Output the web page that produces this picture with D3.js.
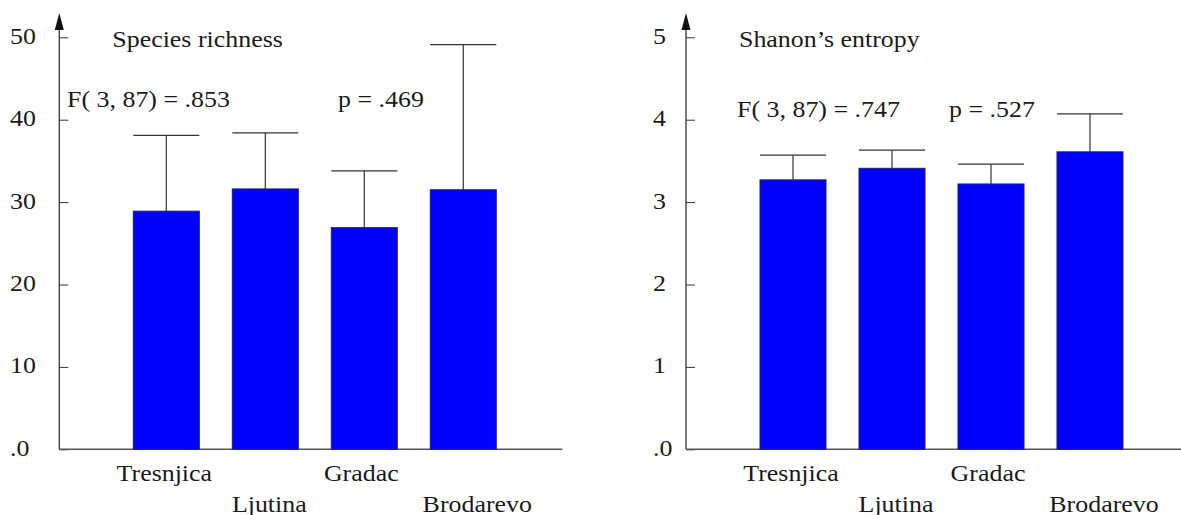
<!DOCTYPE html>
<meta charset="utf-8">
<style>
  body { margin: 0; background: #fff; }
  svg text { font-family: "Liberation Serif", "Times New Roman", Times, "DejaVu Serif", serif; fill: #1a1a1a; }
</style>
<script src="https://d3js.org/d3.v7.min.js"></script>
<div id="chart"></div>
<script>

// data
var sites = ["Tresnjica", "Ljutina", "Gradac", "Brodarevo"];

var richnessMean = [28.9, 31.6, 26.9, 31.5];
var richnessUpper = [38.1, 38.4, 33.8, 49.1];
var richnessTicks = [0, 10, 20, 30, 40, 50];

var entropyMean = [3.27, 3.41, 3.22, 3.61];
var entropyUpper = [3.57, 3.63, 3.46, 4.07];
var entropyTicks = [0, 1, 2, 3, 4, 5];

var width = 1181,
  height = 515,
  baseY = 449.3,
  topY = 37.3,
  axisLen = 503,
  fontFamily = "'Liberation Serif', 'Times New Roman', Times, 'DejaVu Serif', serif",
  fontSize = "24px",
  stretch = 1.08,          // the original lettering is a bit wide
  catShift = [-2, 4, -3, 14],
  barColor = "#0000ff",
  lineColor = "#333";

var svg = d3.select("#chart")
  .append("svg")
    .attr("width", width)
    .attr("height", height)
    .style("font-family", fontFamily);

// put a text at (x, y) with a slight horizontal stretch
function place(sel, fx, fy) {
  sel.attr("transform", function(d, i) {
      return "translate(" + fx(d, i) + "," + fy(d, i) + ") scale(" + stretch + ",1)";
    })
    .style("font-size", fontSize);
  return sel;
}
function k(v) { return function() { return v; }; }

var panels = [
  { x0: 59.3, labelX: 10, title: "Species richness", stat: "F( 3, 87) = .853", p: "p = .469",
    statX: 67, pX: 338, statY: 107, means: richnessMean, upper: richnessUpper, ticks: richnessTicks },
  { x0: 686, labelX: 653, title: "Shanon\u2019s entropy", stat: "F( 3, 87) = .747", p: "p = .527",
    statX: 737, pX: 949, statY: 116.5, means: entropyMean, upper: entropyUpper, ticks: entropyTicks }
];

panels.forEach(function(pn) {
  var g = svg.append("g");

  var y = d3.scaleLinear()
    .domain([0, d3.max(pn.ticks)])
    .range([baseY, topY]);

  var x = d3.scaleBand()
    .domain(sites)
    .range([pn.x0 + 57.5, pn.x0 + 453.5])
    .paddingInner(0.333)
    .paddingOuter(0.1667);

  // y axis with inward ticks
  var yAxis = d3.axisRight(y)
    .tickValues(pn.ticks)
    .tickSize(9)
    .tickFormat(function(d) { return d === 0 ? ".0" : d; });

  var ya = g.append("g")
    .attr("transform", "translate(" + pn.x0 + ",0)")
    .call(yAxis)
    .attr("font-family", null)
    .attr("font-size", null);
  ya.select(".domain").remove();
  ya.selectAll(".tick line").attr("stroke", lineColor);
  place(ya.selectAll(".tick text"), k(pn.labelX - pn.x0), k(0))
    .attr("x", 0)
    .attr("dy", "0.25em")
    .attr("fill", "#1a1a1a")
    .style("text-anchor", "start")
    .style("font-family", fontFamily);

  // vertical axis line with arrow head
  g.append("line")
    .attr("x1", pn.x0).attr("x2", pn.x0)
    .attr("y1", 22).attr("y2", baseY)
    .attr("stroke", lineColor)
    .attr("stroke-width", 1.3);
  g.append("path")
    .attr("d", "M" + pn.x0 + ",13 L" + (pn.x0 - 4.5) + ",30 L" + (pn.x0 + 4.5) + ",30 Z")
    .attr("fill", "#111");

  // horizontal axis line
  g.append("line")
    .attr("x1", pn.x0).attr("x2", pn.x0 + axisLen)
    .attr("y1", baseY).attr("y2", baseY)
    .attr("stroke", "#555")
    .attr("stroke-width", 1.5);

  // error bars
  var err = g.selectAll("g.err")
    .data(sites)
    .enter()
    .append("g");
  err.append("line")
    .attr("x1", function(d) { return x(d) + x.bandwidth() / 2; })
    .attr("x2", function(d) { return x(d) + x.bandwidth() / 2; })
    .attr("y1", function(d, i) { return y(pn.means[i]); })
    .attr("y2", function(d, i) { return y(pn.upper[i]); })
    .attr("stroke", lineColor)
    .attr("stroke-width", 1.2);
  err.append("line")
    .attr("x1", function(d) { return x(d); })
    .attr("x2", function(d) { return x(d) + x.bandwidth(); })
    .attr("y1", function(d, i) { return y(pn.upper[i]); })
    .attr("y2", function(d, i) { return y(pn.upper[i]); })
    .attr("stroke", lineColor)
    .attr("stroke-width", 1.2);

  // bars
  g.selectAll("rect.bar")
    .data(sites)
    .enter()
    .append("rect")
      .attr("x", function(d) { return x(d); })
      .attr("y", function(d, i) { return y(pn.means[i]); })
      .attr("width", x.bandwidth())
      .attr("height", function(d, i) { return baseY - y(pn.means[i]); })
      .style("fill", barColor)
      .attr("stroke", "#222266")
      .attr("stroke-width", 1);

  // category labels, staggered in two rows
  var cats = g.selectAll("text.cat")
    .data(sites)
    .enter()
    .append("text")
      .style("text-anchor", "middle")
      .text(function(d) { return d; });
  place(cats,
    function(d, i) { return x(d) + x.bandwidth() / 2 + catShift[i]; },
    function(d, i) { return i % 2 === 0 ? 481 : 511.5; });

  // titles and test statistics
  place(g.append("text").text(pn.title), k(pn.x0 + 53), k(47));
  place(g.append("text").text(pn.stat), k(pn.statX), k(pn.statY));
  place(g.append("text").text(pn.p), k(pn.pX), k(pn.statY));
});

</script>
